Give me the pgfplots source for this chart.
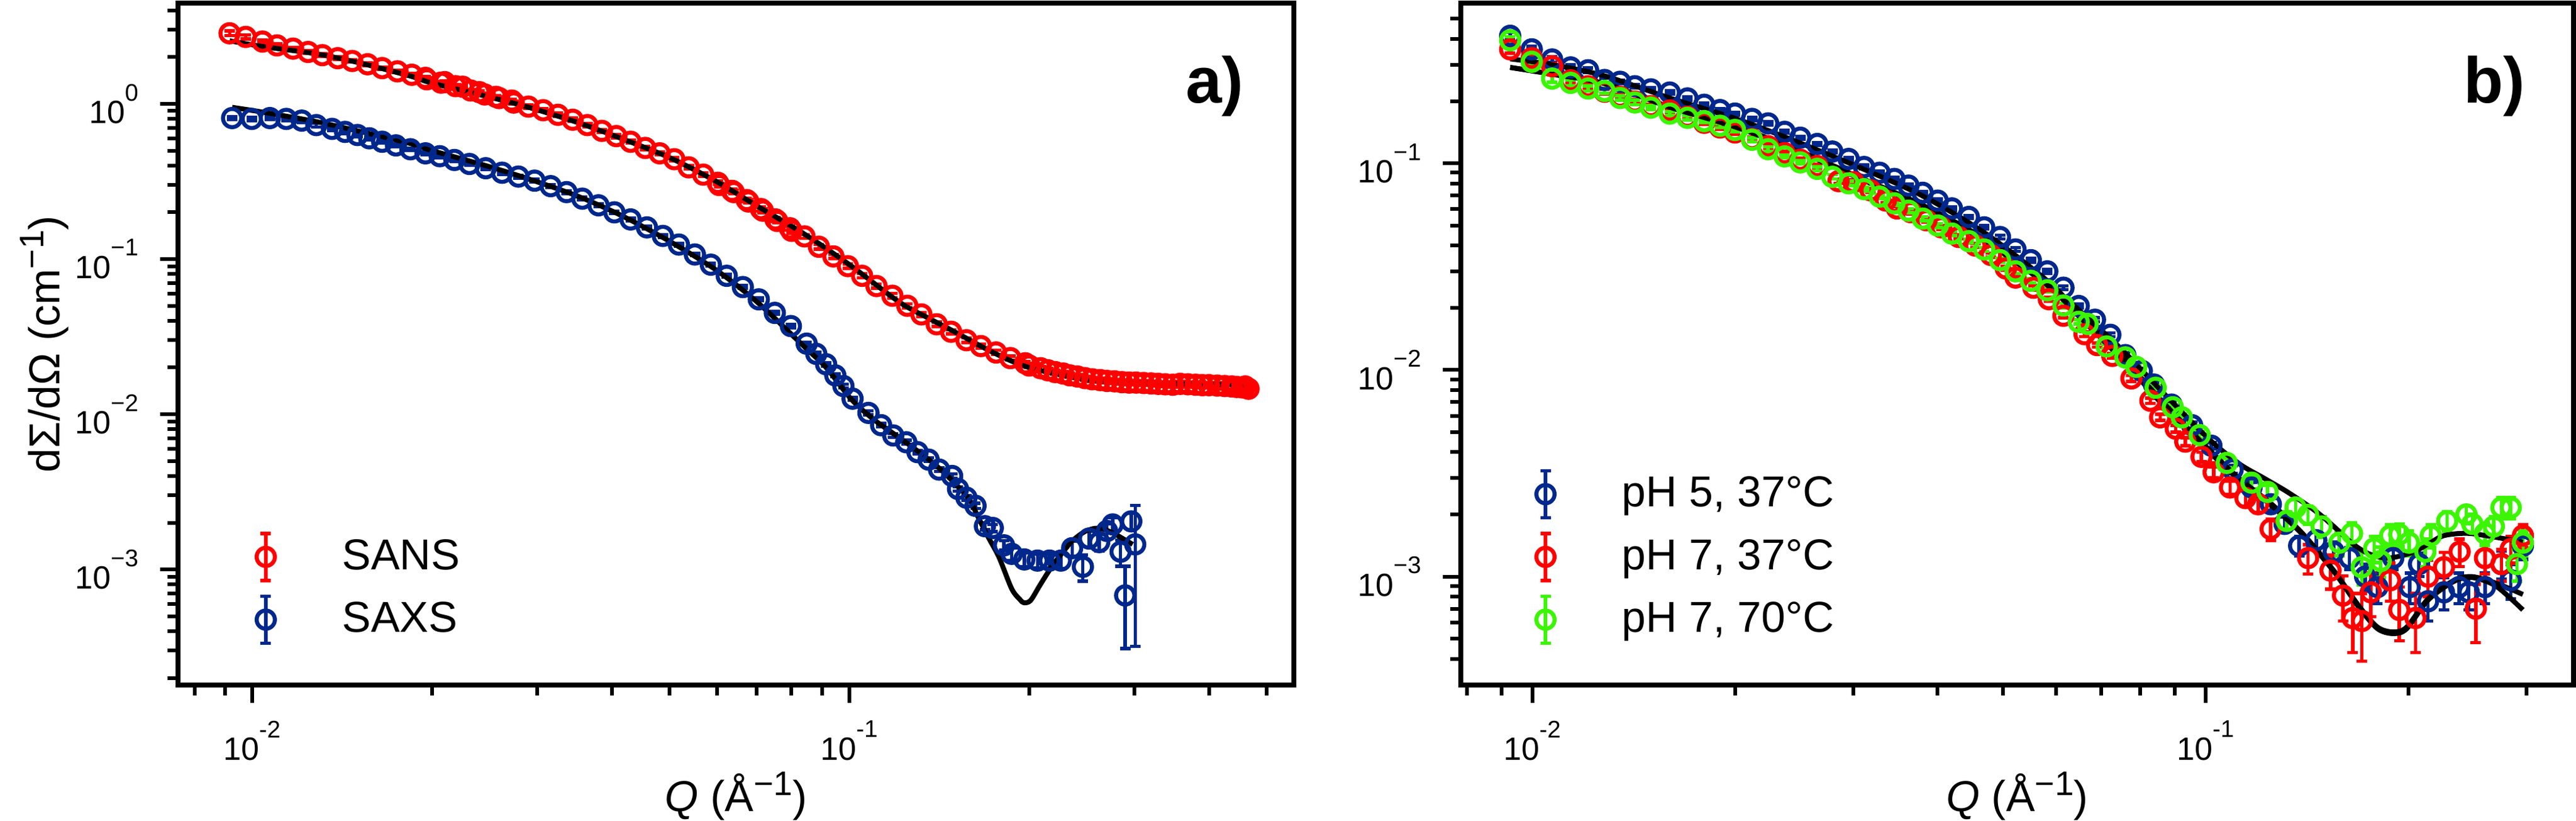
\documentclass[border=0pt]{standalone}
\usepackage{fontspec}
\setmainfont{Liberation Sans}
\usepackage{pgfplots}
\usepackage{pgfplotstable}
\pgfplotsset{compat=1.18}
\definecolor{cred}{RGB}{255,0,0}
\definecolor{cblue}{RGB}{0,40,140}
\definecolor{cgreen}{RGB}{60,245,0}
\newcommand\sx[1]{\raisebox{0.70em}{\fontsize{7.8}{8}\selectfont #1}}
\newcommand\su[1]{\raisebox{0.36em}{\fontsize{11}{12}\selectfont #1}}

\pgfplotstableread{
x y e
0.00916 2.85 0.10
0.00975 2.70 0.08
0.0104 2.52 0.06
0.0110 2.38 0.05
0.0117 2.27 0.05
0.0124 2.16 0.04
0.0131 2.06 0.04
0.0139 1.97 0.04
0.0147 1.89 0.03
0.0156 1.80 0.03
0.0165 1.70 0.03
0.0175 1.62 0.03
0.0185 1.54 0.03
0.0195 1.47 0.03
0.0196 1.44 0.03
0.0207 1.37 0.03
0.0210 1.38 0.03
0.0219 1.30 0.03
0.0225 1.29 0.03
0.0232 1.22 0.02
0.0240 1.19 0.02
0.0245 1.15 0.02
0.0256 1.11 0.02
0.0259 1.09 0.02
0.0272 1.05 0.02
0.0274 1.02 0.02
0.0290 0.96 0.02
0.0307 0.91 0.02
0.0325 0.85 0.02
0.0344 0.79 0.02
0.0364 0.73 0.02
0.0385 0.67 0.015
0.0407 0.62 0.015
0.0430 0.57 0.012
0.0455 0.52 0.012
0.0481 0.48 0.01
0.0509 0.44 0.01
0.0538 0.39 0.01
0.0569 0.35 0.008
0.0602 0.31 0.008
0.0605 0.30 0.008
0.0636 0.275 0.007
0.0640 0.27 0.007
0.0673 0.24 0.006
0.0677 0.235 0.006
0.0711 0.21 0.006
0.0716 0.205 0.006
0.0752 0.18 0.005
0.0757 0.176 0.005
0.0795 0.158 0.005
0.0800 0.152 0.005
0.0841 0.140 0.004
0.0889 0.120 0.004
0.094 0.104 0.003
0.0994 0.090 0.003
0.105 0.078 0.0025
0.111 0.067 0.002
0.118 0.058 0.002
0.125 0.050 0.0015
0.132 0.044 0.0013
0.140 0.038 0.0012
0.148 0.034 0.001
0.157 0.030 0.001
0.166 0.0275 0.0008
0.176 0.0250 0.0008
0.186 0.0230 0.0007
0.197 0.0213 0.0006
0.200 0.0206 0.0006
0.209 0.0198 0.0006
0.215 0.0192 0.0006
0.221 0.0187 0.0006
0.228 0.0183 0.0005
0.234 0.0178 0.0005
0.241 0.0175 0.0005
0.248 0.0171 0.0005
0.255 0.0168 0.0005
0.263 0.0166 0.0005
0.270 0.0164 0.0005
0.278 0.0163 0.0005
0.286 0.0161 0.0005
0.294 0.0160 0.0005
0.302 0.0160 0.0005
0.311 0.0159 0.0005
0.320 0.0158 0.0005
0.329 0.0157 0.0005
0.338 0.0156 0.0005
0.348 0.0155 0.0006
0.358 0.0157 0.0006
0.369 0.0156 0.0006
0.380 0.0155 0.0006
0.390 0.0154 0.0006
0.400 0.0154 0.0006
0.413 0.0153 0.0007
0.425 0.0152 0.0007
0.437 0.0151 0.0008
0.445 0.0150 0.0008
0.455 0.0149 0.0009
0.460 0.0151 0.0009
0.466 0.0146 0.0012
}\sans

\pgfplotstableread{
x y
0.00916 2.55
0.0105 2.33
0.0128 2.10
0.0150 1.85
0.0184 1.51
0.0200 1.36
0.0246 1.12
0.0289 0.955
0.035 0.76
0.0416 0.596
0.050 0.45
0.0598 0.317
0.070 0.22
0.0838 0.146
0.100 0.092
0.121 0.053
0.135 0.042
0.150 0.034
0.174 0.025
0.200 0.020
0.250 0.0167
0.300 0.0160
0.360 0.0157
0.457 0.0155
}\sansfit

\pgfplotstableread{
x y e
0.00925 0.81 0.02
0.00998 0.80 0.02
0.0107 0.81 0.02
0.0114 0.80 0.02
0.0121 0.78 0.02
0.0128 0.73 0.02
0.0136 0.69 0.015
0.0143 0.66 0.015
0.0150 0.63 0.015
0.0157 0.60 0.012
0.0165 0.57 0.012
0.0174 0.54 0.012
0.0184 0.51 0.01
0.0195 0.48 0.01
0.0206 0.46 0.01
0.0218 0.435 0.01
0.0231 0.41 0.008
0.0246 0.385 0.008
0.0262 0.36 0.008
0.0279 0.34 0.007
0.0297 0.32 0.007
0.0316 0.295 0.006
0.0336 0.27 0.006
0.0357 0.245 0.005
0.0380 0.222 0.005
0.0404 0.20 0.004
0.0430 0.18 0.004
0.0458 0.16 0.003
0.0487 0.141 0.003
0.0518 0.124 0.0025
0.0551 0.107 0.002
0.0586 0.092 0.002
0.0623 0.078 0.0015
0.0663 0.066 0.0013
0.0705 0.055 0.0011
0.0750 0.045 0.0009
0.0798 0.037 0.0008
0.0848 0.0285 0.0006
0.0880 0.0245 0.0005
0.0914 0.0210 0.0005
0.0947 0.0178 0.0004
0.0977 0.0152 0.0004
0.1012 0.0126 0.0003
0.1076 0.0102 0.0003
0.113 0.0085 0.0002
0.1184 0.0073 0.0002
0.1245 0.0066 0.0002
0.130 0.0057 0.00015
0.1357 0.0051 0.00015
0.1413 0.0044 0.00012
0.1486 0.0040 0.00012
0.152 0.0033 0.0001
0.157 0.0029 0.0001
0.1626 0.00257 0.0001
0.1686 0.0019 0.0001
0.1738 0.00185 0.0001
0.1815 0.00143 0.0001
0.187 0.00126 0.00012
0.1963 0.00116 0.00012
0.2065 0.00114 0.00012
0.2163 0.00114 0.00012
0.226 0.00114 0.00013
0.236 0.00137 0.00015
0.246 0.00104 0.0002
0.252 0.00158 0.00018
0.262 0.00150 0.00018
0.270 0.00177 0.0002
0.276 0.00195 0.0002
0.2845 0.0013 0.00025
0.2896 0.00068 0.00037
0.2965 0.00204 0.00025
0.301 0.00145 0.00113
}\saxs

\pgfplotstableread{
x y
0.00925 0.95
0.0105 0.88
0.01276 0.77
0.0150 0.67
0.01837 0.556
0.0200 0.50
0.0246 0.40
0.0289 0.33
0.035 0.255
0.0416 0.19
0.050 0.13
0.0598 0.085
0.070 0.053
0.0838 0.0275
0.0914 0.020
0.1007 0.0125
0.110 0.0092
0.121 0.0071
0.135 0.0052
0.145 0.0041
0.158 0.0029
0.164 0.0022
0.171 0.0016
0.178 0.0012
0.187 0.00075
0.193 0.00064
0.196 0.00061
0.201 0.00063
0.208 0.00078
0.214 0.00093
0.220 0.00109
0.228 0.00130
0.235 0.00150
0.242 0.00165
0.249 0.00177
0.258 0.00184
0.266 0.00182
0.276 0.00172
0.287 0.00158
0.298 0.00145
}\saxsfit

\pgfplotstableread{
x y e
0.00927 0.414 0.015
0.00998 0.356 0.012
0.0107 0.318 0.010
0.0114 0.291 0.008
0.0121 0.282 0.007
0.0128 0.253 0.006
0.0135 0.248 0.005
0.0142 0.236 0.005
0.0150 0.228 0.004
0.0160 0.220 0.004
0.0170 0.206 0.004
0.0180 0.192 0.003
0.0190 0.181 0.003
0.0200 0.174 0.003
0.0212 0.164 0.003
0.0224 0.156 0.003
0.0237 0.142 0.002
0.0250 0.133 0.002
0.0265 0.124 0.002
0.0279 0.114 0.002
0.0295 0.105 0.002
0.0311 0.096 0.002
0.0328 0.090 0.0015
0.0345 0.084 0.0015
0.0362 0.078 0.0015
0.0380 0.072 0.0013
0.0400 0.066 0.0012
0.0420 0.0605 0.0011
0.0445 0.055 0.001
0.0469 0.049 0.001
0.0495 0.044 0.0009
0.0522 0.0383 0.0008
0.0550 0.034 0.0007
0.0582 0.030 0.0006
0.0615 0.025 0.0005
0.0648 0.0204 0.0004
0.0685 0.0175 0.0004
0.0722 0.0148 0.0003
0.0760 0.0118 0.0003
0.0804 0.0099 0.0003
0.0838 0.0085 0.0002
0.0890 0.0068 0.0002
0.0955 0.0054 0.0002
0.1020 0.0043 0.00015
0.1097 0.0033 0.00015
0.117 0.0027 0.00015
0.125 0.00224 0.00015
0.131 0.0018 0.00015
0.1377 0.00141 0.00015
0.146 0.00150 0.00015
0.155 0.00132 0.00015
0.1636 0.00123 0.00015
0.1726 0.00100 0.00015
0.180 0.00089 0.00015
0.190 0.00123 0.00015
0.201 0.00089 0.00015
0.2075 0.00115 0.00015
0.214 0.00076 0.00015
0.226 0.00084 0.00015
0.238 0.00089 0.00015
0.246 0.00084 0.00015
0.260 0.00089 0.00015
0.275 0.00115 0.00018
0.284 0.00096 0.00018
0.296 0.00141 0.0002
}\bluep

\pgfplotstableread{
x y e
0.00927 0.356 0.015
0.00998 0.323 0.012
0.0107 0.295 0.010
0.0114 0.252 0.008
0.0121 0.236 0.007
0.0128 0.222 0.006
0.0135 0.210 0.005
0.0142 0.199 0.005
0.0150 0.189 0.004
0.0160 0.180 0.004
0.0170 0.168 0.004
0.0180 0.157 0.003
0.0190 0.149 0.003
0.0200 0.141 0.003
0.0212 0.131 0.003
0.0224 0.121 0.003
0.0237 0.112 0.002
0.0250 0.104 0.002
0.0265 0.097 0.002
0.0285 0.082 0.002
0.0300 0.081 0.002
0.0318 0.074 0.0015
0.0335 0.066 0.0015
0.0348 0.0605 0.0013
0.0365 0.058 0.0013
0.0385 0.053 0.0012
0.0405 0.049 0.0011
0.0430 0.044 0.001
0.0455 0.040 0.0009
0.0480 0.036 0.0008
0.0505 0.031 0.0007
0.0522 0.028 0.0006
0.0555 0.025 0.0006
0.0585 0.022 0.0005
0.0615 0.0183 0.0004
0.0661 0.0149 0.0004
0.0690 0.0132 0.0003
0.0727 0.0117 0.0003
0.0776 0.0091 0.0003
0.0828 0.0071 0.0002
0.0856 0.0059 0.0002
0.0903 0.0052 0.0002
0.0933 0.0045 0.0002
0.0986 0.0038 0.0002
0.1028 0.0032 0.0002
0.1087 0.0027 0.0002
0.1146 0.0024 0.0002
0.1197 0.00224 0.0002
0.1249 0.0017 0.0002
0.142 0.00123 0.0002
0.1533 0.00107 0.0002
0.160 0.00081 0.0002
0.1654 0.00063 0.0002
0.1707 0.00061 0.00022
0.176 0.00084 0.0002
0.188 0.00096 0.0002
0.194 0.00069 0.0002
0.205 0.00063 0.0002
0.214 0.00100 0.0002
0.226 0.00111 0.0002
0.2384 0.00132 0.0002
0.252 0.00070 0.00022
0.260 0.00123 0.0002
0.275 0.00115 0.0002
0.284 0.00136 0.0002
0.296 0.00158 0.0002
}\redp

\pgfplotstableread{
x y e
0.00927 0.394 0.015
0.00998 0.310 0.012
0.0107 0.257 0.010
0.0114 0.245 0.008
0.0121 0.230 0.007
0.0128 0.224 0.006
0.0135 0.207 0.005
0.0142 0.197 0.005
0.0150 0.186 0.004
0.0160 0.174 0.004
0.0170 0.166 0.004
0.0180 0.160 0.003
0.0190 0.152 0.003
0.0200 0.145 0.003
0.0212 0.130 0.003
0.0224 0.117 0.003
0.0237 0.108 0.002
0.0250 0.101 0.002
0.0265 0.094 0.002
0.0279 0.086 0.002
0.0295 0.080 0.002
0.0311 0.075 0.0015
0.0328 0.069 0.0015
0.0345 0.064 0.0013
0.0362 0.059 0.0013
0.0380 0.054 0.0012
0.0400 0.050 0.0011
0.0420 0.0457 0.001
0.0445 0.042 0.0009
0.0469 0.0383 0.0008
0.0495 0.034 0.0008
0.0522 0.030 0.0007
0.0550 0.027 0.0006
0.0582 0.0243 0.0005
0.0615 0.0205 0.0005
0.0648 0.0171 0.0004
0.0668 0.0167 0.0004
0.0713 0.0130 0.0003
0.0760 0.0115 0.0003
0.0789 0.01035 0.0003
0.0843 0.0082 0.0002
0.0894 0.0066 0.0002
0.0922 0.0059 0.0002
0.0980 0.00484 0.0002
0.1075 0.00355 0.0002
0.1170 0.00285 0.0002
0.1236 0.00257 0.0002
0.132 0.00186 0.0002
0.136 0.00216 0.0002
0.142 0.00199 0.0002
0.1487 0.00175 0.0002
0.158 0.00146 0.0002
0.165 0.00162 0.0002
0.1706 0.00111 0.0002
0.178 0.00137 0.0002
0.182 0.00119 0.0002
0.188 0.00158 0.0002
0.194 0.00160 0.0002
0.2005 0.00146 0.0002
0.212 0.00132 0.0002
0.216 0.00158 0.0002
0.2285 0.00186 0.0002
0.244 0.00200 0.0002
0.249 0.00180 0.0002
0.260 0.00162 0.0002
0.268 0.00175 0.0002
0.275 0.00216 0.00025
0.284 0.00216 0.00025
0.290 0.00115 0.0002
0.296 0.00146 0.0002
}\greenp

\pgfplotstableread{
x y
0.00927 0.32
0.0107 0.30
0.0128 0.265
0.016 0.207
0.020 0.165
0.0243 0.130
0.0305 0.096
0.0379 0.0698
0.047 0.046
0.0582 0.027
0.0653 0.0185
0.075 0.0117
0.0867 0.0069
0.1006 0.0042
0.112 0.0030
0.125 0.00226
0.139 0.00163
0.155 0.00107
0.169 0.00072
0.180 0.00057
0.190 0.00054
0.199 0.00057
0.214 0.00078
0.234 0.00096
0.249 0.00100
0.270 0.00093
0.296 0.00082
}\bluefit

\pgfplotstableread{
x y
0.00927 0.291
0.0107 0.27
0.0128 0.243
0.016 0.187
0.020 0.150
0.0243 0.118
0.0305 0.085
0.0379 0.0617
0.047 0.042
0.0582 0.0257
0.0653 0.0178
0.075 0.0113
0.0867 0.0067
0.1006 0.0041
0.112 0.00295
0.125 0.00222
0.139 0.00161
0.155 0.00106
0.169 0.00071
0.180 0.00056
0.190 0.00053
0.199 0.00056
0.214 0.00077
0.234 0.00095
0.249 0.00099
0.270 0.00090
0.296 0.00069
}\redfit

\pgfplotstableread{
x y
0.00927 0.291
0.0107 0.27
0.0128 0.243
0.016 0.187
0.020 0.151
0.0243 0.119
0.0305 0.086
0.0379 0.063
0.047 0.043
0.0582 0.0262
0.0653 0.0191
0.075 0.0126
0.0867 0.0077
0.1008 0.00468
0.112 0.00353
0.122 0.0030
0.132 0.00258
0.145 0.0021
0.155 0.00175
0.165 0.00145
0.173 0.00131
0.180 0.00125
0.188 0.00123
0.203 0.00131
0.215 0.00145
0.226 0.00158
0.245 0.00162
0.270 0.00155
0.296 0.00147
}\greenfit

\pgfplotsset{
  legend image code/.code={
    \path (0pt,0pt) (17pt,0pt);
    \draw[#1, line width=1.1pt] (8.5pt,-7.6pt) -- (8.5pt,7.6pt);
    \draw[#1, line width=1.1pt] (6.8pt,-7.6pt) -- (10.2pt,-7.6pt);
    \draw[#1, line width=1.1pt] (6.8pt,7.6pt) -- (10.2pt,7.6pt);
    \draw[#1] plot coordinates {(8.5pt,0pt)};
  },
}

\begin{document}
\begin{tikzpicture}
\path[use as bounding box] (-57.6pt,-43.8pt) rectangle (775.8pt,221.6pt);
\begin{axis}[
  scale only axis, width=361pt, height=220.6pt,
  xmode=log, ymode=log,
  axis line style={line width=1.6pt},
  tick align=outside, xtick pos=left, ytick pos=left,
  major tick length=5.8pt, minor tick length=3.4pt,
  every tick/.append style={line width=1.2pt, black},
  tick label style={font=\fontsize{10.4}{12}\selectfont},
  yticklabel style={xshift=-3.5pt},
  xticklabel style={yshift=-2.3pt},
  xlabel style={font=\fontsize{14}{16}\selectfont, at={(axis description cs:0.5,0)}, anchor=base, yshift=-40.8pt},
  xlabel={\textit{Q} (Å\su{−1})},
  ylabel style={font=\fontsize{14}{16}\selectfont, at={(axis description cs:-0.1197,0.5)}, anchor=center},
  ylabel={dΣ/dΩ (cm\su{−1})},
  legend cell align=left,
  legend style={draw=none, fill=none, inner sep=0pt, row sep=4pt,
    column sep=16pt, nodes={inner sep=0pt},
    font=\fontsize{14}{16}\selectfont, anchor=south west,
    at={(axis description cs:0.054,0.058)}},
  at={(0pt,0pt)}, anchor=south west,
  xmin=0.00751, xmax=0.555, ymin=1.8e-4, ymax=4.46,
  xtick={0.01,0.1}, xticklabels={10\sx{-2},10\sx{-1}},
  minor xtick={0.008,0.009,0.02,0.03,0.04,0.05,0.06,0.07,0.08,0.09,0.2,0.3,0.4,0.5},
  ytick={0.001,0.01,0.1,1}, yticklabels={10\sx{−3},10\sx{−2},10\sx{−1},10\sx{0}},
  minor ytick={2e-4,3e-4,4e-4,5e-4,6e-4,7e-4,8e-4,9e-4,2e-3,3e-3,4e-3,5e-3,6e-3,7e-3,8e-3,9e-3,0.02,0.03,0.04,0.05,0.06,0.07,0.08,0.09,0.2,0.3,0.4,0.5,0.6,0.7,0.8,0.9,2,3,4},
]
\addplot[cred, only marks, mark=o, mark size=2.95pt, mark options={line width=1.3pt},
  error bars/.cd, y dir=both, y explicit, error bar style={line width=1.1pt},
  error mark options={rotate=90, mark size=1.7pt, line width=1.1pt}]
  table[x=x, y=y, y error=e] {\sans};
\addlegendentry{SANS}
\addplot[cblue, only marks, mark=o, mark size=2.95pt, mark options={line width=1.3pt},
  error bars/.cd, y dir=both, y explicit, error bar style={line width=1.1pt},
  error mark options={rotate=90, mark size=1.7pt, line width=1.1pt}]
  table[x=x, y=y, y error=e] {\saxs};
\addlegendentry{SAXS}
\addplot[black, line width=1.6pt, mark=none, smooth, forget plot] table[x=x, y=y] {\sansfit};
\addplot[black, line width=1.6pt, mark=none, smooth, forget plot] table[x=x, y=y] {\saxsfit};
\node[font=\bfseries\fontsize{21}{24}\selectfont] at (axis description cs:0.929,0.878) {a)};
\end{axis}

\begin{axis}[
  scale only axis, width=360pt, height=220.6pt,
  xmode=log, ymode=log,
  axis line style={line width=1.6pt},
  tick align=outside, xtick pos=left, ytick pos=left,
  major tick length=5.8pt, minor tick length=3.4pt,
  every tick/.append style={line width=1.2pt, black},
  tick label style={font=\fontsize{10.4}{12}\selectfont},
  yticklabel style={xshift=-3.5pt},
  xticklabel style={yshift=-2.3pt},
  xlabel style={font=\fontsize{14}{16}\selectfont, at={(axis description cs:0.5,0)}, anchor=base, yshift=-40.8pt},
  xlabel={\textit{Q} (Å\su{−1})},
  legend cell align=left,
  legend style={draw=none, fill=none, inner sep=0pt, row sep=4pt,
    column sep=16pt, nodes={inner sep=0pt},
    font=\fontsize{14}{16}\selectfont, anchor=south west,
    at={(axis description cs:0.0514,0.058)}},
  at={(415pt,0pt)}, anchor=south west,
  xmin=0.00783, xmax=0.352, ymin=2.99e-4, ymax=0.596,
  xtick={0.01,0.1}, xticklabels={10\sx{-2},10\sx{-1}},
  minor xtick={0.008,0.009,0.02,0.03,0.04,0.05,0.06,0.07,0.08,0.09,0.2,0.3},
  ytick={0.001,0.01,0.1}, yticklabels={10\sx{−3},10\sx{−2},10\sx{−1}},
  minor ytick={4e-4,5e-4,6e-4,7e-4,8e-4,9e-4,2e-3,3e-3,4e-3,5e-3,6e-3,7e-3,8e-3,9e-3,0.02,0.03,0.04,0.05,0.06,0.07,0.08,0.09,0.2,0.3,0.4,0.5},
]
\addplot[cblue, only marks, mark=o, mark size=2.95pt, mark options={line width=1.3pt},
  error bars/.cd, y dir=both, y explicit, error bar style={line width=1.1pt},
  error mark options={rotate=90, mark size=1.7pt, line width=1.1pt}]
  table[x=x, y=y, y error=e] {\bluep};
\addlegendentry{pH 5, 37°C}
\addplot[cred, only marks, mark=o, mark size=2.95pt, mark options={line width=1.3pt},
  error bars/.cd, y dir=both, y explicit, error bar style={line width=1.1pt},
  error mark options={rotate=90, mark size=1.7pt, line width=1.1pt}]
  table[x=x, y=y, y error=e] {\redp};
\addlegendentry{pH 7, 37°C}
\addplot[cgreen, only marks, mark=o, mark size=2.95pt, mark options={line width=1.3pt},
  error bars/.cd, y dir=both, y explicit, error bar style={line width=1.1pt},
  error mark options={rotate=90, mark size=1.7pt, line width=1.1pt}]
  table[x=x, y=y, y error=e] {\greenp};
\addlegendentry{pH 7, 70°C}
\addplot[black, line width=1.6pt, mark=none, smooth, forget plot] table[x=x, y=y] {\bluefit};
\addplot[black, line width=1.6pt, mark=none, smooth, forget plot] table[x=x, y=y] {\redfit};
\addplot[black, line width=1.6pt, mark=none, smooth, forget plot] table[x=x, y=y] {\greenfit};
\node[font=\bfseries\fontsize{21}{24}\selectfont] at (axis description cs:0.929,0.878) {b)};
\end{axis}
\end{tikzpicture}
\end{document}
